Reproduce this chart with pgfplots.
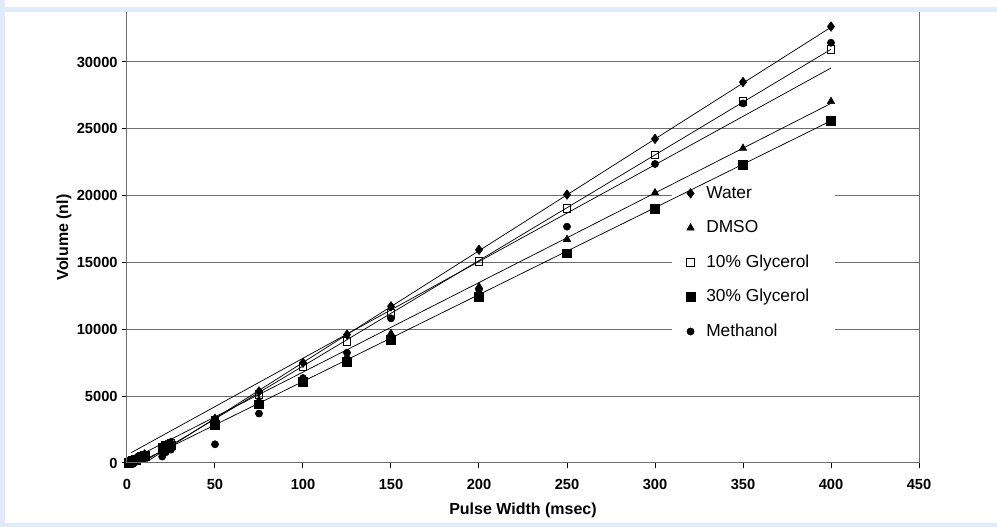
\documentclass[border=0pt]{standalone}
\usepackage{pgfplots}
\pgfplotsset{compat=1.18}
\usepackage{fontspec}
\setmainfont{Liberation Sans}
\usetikzlibrary{backgrounds}
\definecolor{frameblue}{RGB}{224,234,250}
\definecolor{gridgray}{RGB}{110,110,110}

\begin{document}
\begin{tikzpicture}
\begin{axis}[
    name=ax,
    scale only axis,
    width=594pt, height=338.25pt,
    xmin=0, xmax=450,
    ymin=0, ymax=33740,
    xtick={0,50,...,450},
    ytick={0,5000,...,30000},
    scaled y ticks=false,
    /pgf/number format/set thousands separator={},
    /pgf/number format/assume math mode=true,
    ymajorgrids=true,
    grid style={gridgray, line width=0.75pt},
    axis line style={draw=none},
    tick pos=left,
    tick align=outside,
    major tick length=3.5pt,
    tick style={black, line width=0.75pt},
    ticklabel style={font=\fontsize{11}{13}\selectfont\bfseries},
    xticklabel style={yshift=-5pt},
    xlabel={Pulse Width (msec)},
    ylabel={Volume (nl)},
    label style={font=\fontsize{12}{14}\selectfont\bfseries},
    xlabel style={at={(axis description cs:0.5,-0.104)}, anchor=center},
    ylabel style={at={(axis description cs:-0.0795,0.5)}, anchor=center},
    legend style={
        at={(0.706,0.6215)}, anchor=north west,
        draw=none, fill=none, inner sep=0pt, outer sep=0pt,
        row sep=9.9pt, column sep=6.5pt,
        font=\fontsize{13}{15}\selectfont,
        nodes={inner sep=2pt, text height=9.5pt, text depth=2.5pt},
    },
    legend cell align=left,
    after end axis/.code={
        \draw[gridgray, line width=0.75pt] (rel axis cs:0,1) -- (rel axis cs:0,0) -- (rel axis cs:1,0) -- (rel axis cs:1,1);
    },
]

% legend area hides the grid, lines still pass over it
\fill[white] (axis cs:309.7,8830) rectangle (axis cs:402.3,21320);

% trend lines
\addplot[black, line width=0.55pt, forget plot] coordinates {(1,-756) (400,32600)};
\addplot[black, line width=0.55pt, forget plot] coordinates {(1,167) (400,26900)};
\addplot[black, line width=0.55pt, forget plot] coordinates {(1,-571) (400,30950)};
\addplot[black, line width=0.55pt, forget plot] coordinates {(1,-335) (400,25600)};
\addplot[black, line width=0.55pt, forget plot] coordinates {(2.5,780) (400,29550)};

\addplot[only marks, mark=diamond*, mark size=3.6pt, black] coordinates {
    (1,60) (2,120) (3,190) (4,250) (5,320) (6,380) (8,500) (10,640)
    (20,1200) (21,1260) (22,1330) (23,1400) (24,1450) (25,1520)
    (50,3300) (75,5350) (100,7500) (125,9600) (150,11720) (200,15950)
    (250,20080) (300,24250) (350,28500) (400,32650)
};
\addlegendentry{Water}

\addplot[only marks, mark=triangle*, mark size=3.2pt, black] coordinates {
    (1,50) (2,110) (3,170) (5,290) (8,470) (10,590)
    (20,1150) (22,1250) (25,1430)
    (50,3050) (75,4700) (100,6300) (125,7950) (150,9700) (200,13200)
    (250,16730) (300,20220) (350,23550) (400,27050)
};
\addlegendentry{DMSO}

\addplot[only marks, mark=square, mark size=2.9pt, black, mark options={fill=white, line width=0.6pt}] coordinates {
    (1,55) (2,115) (3,180) (5,300) (8,480) (10,610)
    (20,1180) (22,1290) (25,1470)
    (50,3200) (75,5150) (100,7200) (125,9100) (150,11200) (200,15060)
    (250,19050) (300,23040) (350,27030) (400,30950)
};
\addlegendentry{10\% Glycerol}

\addplot[only marks, mark=square*, mark size=3.3pt, black] coordinates {
    (1,45) (2,100) (3,160) (5,270) (8,430) (10,550)
    (20,1050) (22,1150) (25,1330)
    (50,2850) (75,4400) (100,6050) (125,7580) (150,9230) (200,12450)
    (250,15690) (300,19000) (350,22290) (400,25600)
};
\addlegendentry{30\% Glycerol}

\addplot[only marks, mark=*, mark size=2.7pt, black] coordinates {
    (3,110) (5,200) (10,420)
    (20,480) (22,800) (25,1000)
    (50,1400) (75,3700) (100,6350) (125,8250) (150,10820) (200,13000)
    (250,17680) (300,22370) (350,26900) (400,31440)
};
\addlegendentry{Methanol}

\end{axis}

\begin{scope}[on background layer]
    \coordinate (bl) at ([xshift=-95.25pt, yshift=-48pt]ax.south west);
    \coordinate (tr) at ([xshift=652.5pt, yshift=347.25pt]ax.south west);
    \fill[white] (bl) rectangle (tr);
    % light blue frame strips
    \fill[frameblue] (bl) rectangle ([xshift=3.75pt]bl |- tr);
    \fill[frameblue] ([yshift=-5.25pt]bl |- tr) rectangle ([yshift=-9pt]tr);
    \fill[frameblue] (bl) rectangle ([yshift=3pt]tr |- bl);
\end{scope}
\end{tikzpicture}
\end{document}
